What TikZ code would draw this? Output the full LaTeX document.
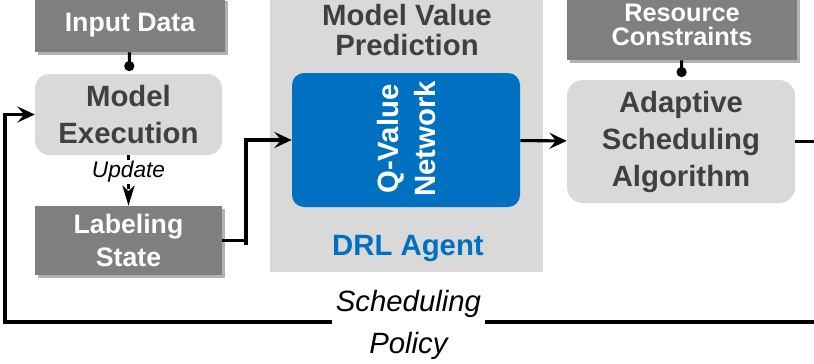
\documentclass[tikz,border=0pt]{standalone}
\usepackage{fontspec}
\setmainfont{Liberation Sans}
\usetikzlibrary{arrows.meta,shadows}

\definecolor{boxdark}{HTML}{7F7F7F}
\definecolor{boxlight}{HTML}{D9D9D9}
\definecolor{textdark}{HTML}{404040}
\definecolor{agentblue}{HTML}{0070C0}

\tikzset{
	databox/.style={fill=boxdark, text=white, align=center, inner sep=0pt,
		font=\bfseries\fontsize{20}{24.75}\selectfont,
		drop shadow={shadow xshift=2.5pt, shadow yshift=-2.5pt, fill=black, opacity=0.3}},
	stagebox/.style={fill=boxlight, text=textdark, rounded corners=11pt, align=center, inner sep=0pt,
		font=\bfseries\fontsize{22}{27.75}\selectfont},
	flow/.style={line width=2.3pt, -{Stealth[length=13pt, width=12pt, inset=5pt]}},
	feed/.style={line width=2.3pt, -{Circle[length=7.5pt]}, shorten >=2pt},
	flowlabel/.style={fill=white, text=black, font=\itshape\fontsize{22}{31.5}\selectfont, align=center, inner sep=3pt},
}

\begin{document}
\begin{tikzpicture}[x=0.75pt, y=-0.75pt]

	\useasboundingbox (0,0) rectangle (814,364);

	% DRL agent panel
	\node [fill=boxlight, minimum width=204.75pt, minimum height=211.5pt, inner sep=0pt] (agent) at (406.5,131) {};
	\node [text=textdark, font=\bfseries\fontsize{22}{22.5}\selectfont, align=center] (mvp) at (407,30) {Model Value\\Prediction};
	\node [fill=agentblue, rounded corners=9pt, minimum width=171pt, minimum height=100.5pt, inner sep=0pt] (qnet) at (406,140) {};
	\node [rotate=90, text=white, font=\bfseries\fontsize{22}{27.75}\selectfont, align=center] (qtext) at (407,139) {Q-Value\\Network};
	\node [text=agentblue, font=\bfseries\fontsize{22}{26}\selectfont] (drl) at (408,249) {DRL Agent};

	% left column
	\node [databox, minimum width=142.5pt, minimum height=40.5pt] (input) at (130,25) {Input Data};
	\node [stagebox, minimum width=140.25pt, minimum height=60.75pt] (exec) at (128.5,114.5) {Model\\Execution};
	\node [databox, minimum width=140.25pt, minimum height=51.75pt] (label) at (128.5,240.5) {Labeling\\State};

	% right column
	\node [databox, minimum width=172.5pt, minimum height=52.5pt, font=\bfseries\fontsize{19}{17.5}\selectfont] (res) at (682,25) {Resource\\Constraints};
	\node [stagebox, minimum width=171pt, minimum height=92.25pt, rounded corners=12pt] (sched) at (681,141.5) {Adaptive\\Scheduling\\Algorithm};

	\coordinate (turn) at (246,245);
	\coordinate (loopR) at (830,322);
	\coordinate (loopL) at (5,322);

	\draw [feed] (input) -- (exec);
	\draw [feed] (res) -- (sched);
	\draw [line width=2.3pt, dashed, dash pattern=on 4pt off 3pt, -{Stealth[length=15pt, width=9pt, inset=4pt]}] (exec) -- (label)
		node [pos=0.33, fill=white, inner sep=1pt, font=\itshape\fontsize{17}{20}\selectfont] {Update};
	\draw [line width=2.3pt] (label.east) -- (label.east -| turn);
	\draw [flow] (turn) |- (qnet.west);
	\draw [flow] (qnet) -- (sched);
	\draw [flow] (sched.east) -- (sched.east -| loopR) -- (loopR) -- (loopL)
		node [flowlabel, pos=0.511, yshift=-2.5pt] {Scheduling\\Policy}
		|- (exec.west);

\end{tikzpicture}
\end{document}
